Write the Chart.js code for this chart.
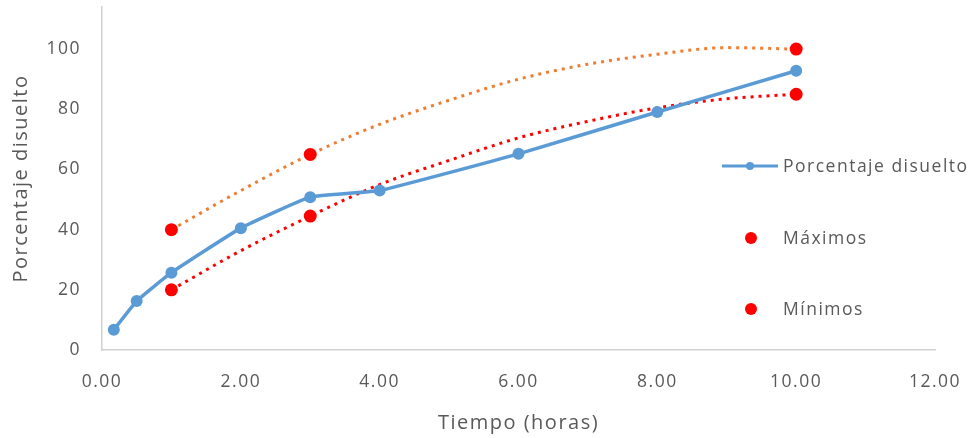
<!DOCTYPE html>
<html>
<head>
<meta charset="utf-8">
<script src="https://cdn.jsdelivr.net/npm/chart.js@4/dist/chart.umd.min.js"></script>
<style>
  html, body { margin: 0; padding: 0; background: #fff; }
  #wrap { width: 974px; height: 438px; }
</style>
</head>
<body>
<div id="wrap"><canvas id="disolucion"></canvas></div>
<script>
// datos
var tiempo = [0.17, 0.5, 1, 2, 3, 4, 6, 8, 10];
var porcentaje = [6.7, 16.3, 25.7, 40.5, 50.8, 53, 65.2, 79.1, 92.8];

var tiempoExt = [1, 3, 10];
var maximos = [40, 65, 100];
var minimos = [20, 44.5, 85];

// lineas de tendencia (punteadas)
var tiempoTend = [1, 2, 3, 4, 5, 6, 7, 8, 9, 10];
var tendMax = [40, 53, 65, 75, 83, 90, 95, 98.3, 100.5, 100];
var tendMin = [20, 33, 44.5, 55, 63, 70.5, 76, 80.5, 83.5, 85];

var xTicks = [0, 2, 4, 6, 8, 10, 12];
var yTicks = [0, 20, 40, 60, 80, 100];

function puntos(xs, ys) {
    return xs.map(function (x, i) { return { x: x, y: ys[i] }; });
}

var gris = '#595959';
var fuente = '"Open Sans", "Noto Sans", sans-serif';

var espaciado = {
    id: 'espaciado',
    beforeLayout: function (chart) { chart.ctx.letterSpacing = '1.5px'; },
    beforeDraw: function (chart) { chart.ctx.letterSpacing = '1.5px'; }
};

var leyenda = {
    id: 'leyenda',
    afterDraw: function (chart) {
        var ctx = chart.ctx;
        var filas = [166, 238, 309];
        ctx.save();
        ctx.font = '17.5px ' + fuente;
        ctx.textBaseline = 'middle';
        ctx.textAlign = 'left';
        chart.data.datasets.forEach(function (ds, i) {
            if (i > 2) return;
            var y = filas[i];
            if (ds.showLine) {
                ctx.strokeStyle = ds.borderColor;
                ctx.lineWidth = 3;
                ctx.beginPath();
                ctx.moveTo(722, y);
                ctx.lineTo(778, y);
                ctx.stroke();
                ctx.fillStyle = ds.pointBackgroundColor;
                ctx.beginPath();
                ctx.arc(750, y, 4, 0, Math.PI * 2);
                ctx.fill();
            } else {
                ctx.fillStyle = ds.pointBackgroundColor;
                ctx.beginPath();
                ctx.arc(751, y, 6, 0, Math.PI * 2);
                ctx.fill();
            }
            ctx.fillStyle = gris;
            ctx.fillText(ds.label, 783, y + 1);
        });
        ctx.restore();
    }
};

new Chart("disolucion", {
    type: 'scatter',
    data: {
        datasets: [{
            label: "Porcentaje disuelto",
            data: puntos(tiempo, porcentaje),
            showLine: true,
            borderColor: '#5B9BD5',
            backgroundColor: '#5B9BD5',
            pointBackgroundColor: '#5B9BD5',
            pointBorderWidth: 0,
            borderWidth: 3.5,
            pointRadius: 6,
            tension: 0.12,
        }, {
            label: "Máximos",
            data: puntos(tiempoExt, maximos),
            showLine: false,
            backgroundColor: '#FF0000',
            pointBackgroundColor: '#FF0000',
            pointBorderWidth: 0,
            pointRadius: 6.5,
        }, {
            label: "Mínimos",
            data: puntos(tiempoExt, minimos),
            showLine: false,
            backgroundColor: '#FF0000',
            pointBackgroundColor: '#FF0000',
            pointBorderWidth: 0,
            pointRadius: 6.5,
        }, {
            label: "Tendencia máximos",
            data: puntos(tiempoTend, tendMax),
            showLine: true,
            borderColor: '#ED7D31',
            borderWidth: 3,
            borderDash: [3, 5],
            pointRadius: 0,
            cubicInterpolationMode: 'monotone',
        }, {
            label: "Tendencia mínimos",
            data: puntos(tiempoTend, tendMin),
            showLine: true,
            borderColor: '#FF0000',
            borderWidth: 3,
            borderDash: [3, 5],
            pointRadius: 0,
            cubicInterpolationMode: 'monotone',
        }]
    },
    options: {
        responsive: true,
        maintainAspectRatio: false,
        animation: false,
        layout: {
            padding: { top: 7, right: 39, left: 0, bottom: 0 }
        },
        plugins: {
            legend: { display: false },
            tooltip: { enabled: false }
        },
        scales: {
            x: {
                type: 'linear',
                min: 0,
                max: 12,
                afterFit: function (scale) {
                    scale.height = 88;
                    scale.paddingLeft = 0;
                    scale.paddingRight = 0;
                },
                afterBuildTicks: function (scale) {
                    scale.ticks = xTicks.map(function (v) { return { value: v }; });
                },
                grid: { display: false, drawTicks: false },
                border: { display: true, color: '#D0D0D0', width: 1.5 },
                ticks: {
                    padding: 22,
                    color: gris,
                    font: { family: fuente, size: 17.5 },
                    callback: function (v) { return v.toFixed(2); }
                },
                title: {
                    display: true,
                    text: 'Tiempo (horas)',
                    color: gris,
                    font: { family: fuente, size: 20 },
                    padding: { top: 0, bottom: 3 }
                }
            },
            y: {
                min: 0,
                max: 114,
                afterFit: function (scale) {
                    scale.width = 102;
                    scale.paddingTop = 0;
                    scale.paddingBottom = 0;
                },
                afterBuildTicks: function (scale) {
                    scale.ticks = yTicks.map(function (v) { return { value: v }; });
                },
                grid: { display: false, drawTicks: false },
                border: { display: true, color: '#D0D0D0', width: 1.5 },
                ticks: {
                    padding: 21,
                    color: gris,
                    font: { family: fuente, size: 17.5 }
                },
                title: {
                    display: true,
                    text: 'Porcentaje disuelto',
                    color: gris,
                    font: { family: fuente, size: 20 },
                    padding: { top: 9, bottom: 0 }
                }
            }
        }
    },
    plugins: [espaciado, leyenda]
});
</script>
</body>
</html>
